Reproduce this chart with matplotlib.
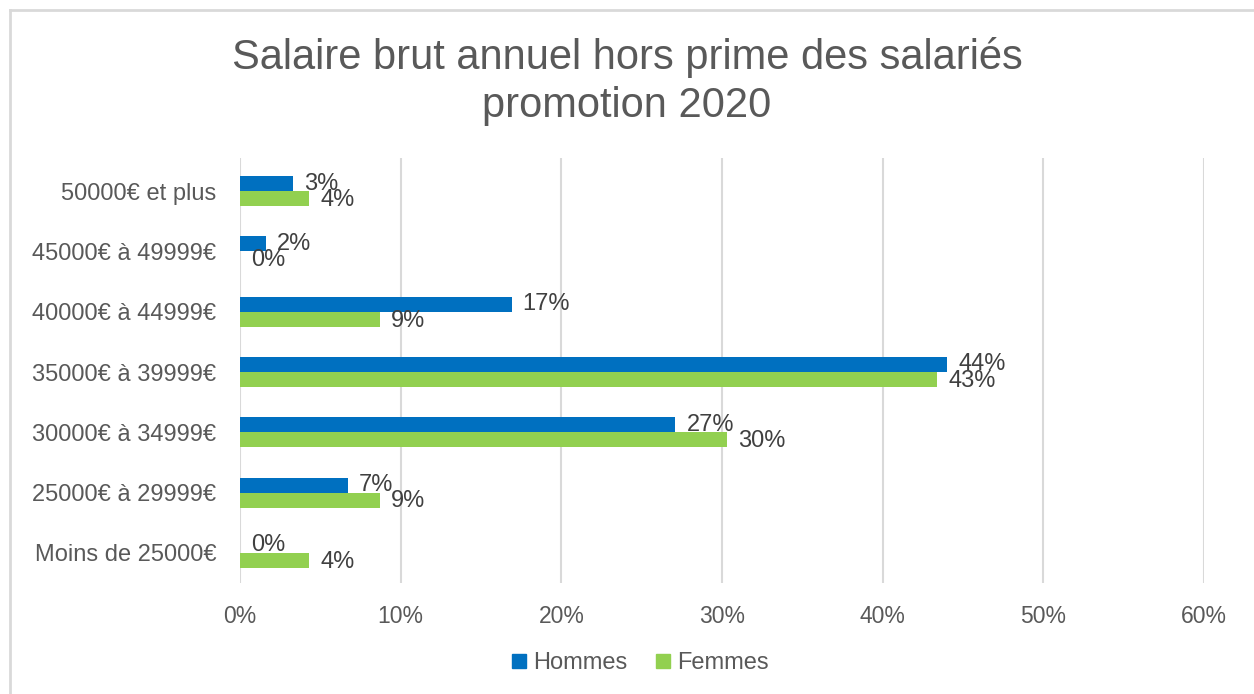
import matplotlib.pyplot as plt
import numpy as np
from matplotlib.lines import Line2D

plt.rcParams['font.family'] = ['Liberation Sans', 'DejaVu Sans']

# categories (bottom to top)
categories = ["Moins de 25000€", "25000€ à 29999€", "30000€ à 34999€", "35000€ à 39999€",
              "40000€ à 44999€", "45000€ à 49999€", "50000€ et plus"]
hommes = [0.0, 6.7, 27.1, 44.0, 16.9, 1.6, 3.3]
femmes = [4.3, 8.7, 30.3, 43.4, 8.7, 0.0, 4.3]
hommes_labels = ["0%", "7%", "27%", "44%", "17%", "2%", "3%"]
femmes_labels = ["4%", "9%", "30%", "43%", "9%", "0%", "4%"]
xticks = [0, 10, 20, 30, 40, 50, 60]

blue = "#0070C0"
green = "#92D050"
txt = "#595959"
grid = "#D9D9D9"

fig = plt.figure(figsize=(12.54, 6.94), dpi=100)
ax = fig.add_axes([240/1254, 1-583/694, (1204-240)/1254, (583-158)/694])

y = np.arange(len(categories))
h = 0.25
ax.barh(y + h/2, hommes, height=h, color=blue, zorder=3)
ax.barh(y - h/2, femmes, height=h, color=green, zorder=3)

# data labels (Excel style, they overlap a bit)
for i in range(len(categories)):
    ax.annotate(hommes_labels[i], (hommes[i], y[i] + h/2), xytext=(8, 0),
                textcoords="offset points", va="center", ha="left", fontsize=17, color="#404040")
    ax.annotate(femmes_labels[i], (femmes[i], y[i] - h/2), xytext=(8, -1),
                textcoords="offset points", va="center", ha="left", fontsize=17, color="#404040")

ax.set_xlim(0, 60)
ax.set_ylim(-0.5, 6.55)
ax.set_xticks(xticks)
ax.set_xticklabels([f"{v}%" for v in xticks])
ax.set_yticks(y)
ax.set_yticklabels(categories)
ax.tick_params(axis="x", length=0, pad=16, labelsize=16.5, labelcolor=txt)
ax.tick_params(axis="y", length=0, pad=17, labelsize=17, labelcolor=txt)
ax.grid(axis="x", color=grid, linewidth=1.5, zorder=0)
for s in ax.spines.values():
    s.set_visible(False)

fig.text(0.5, 1-57/694, "Salaire brut annuel hors prime des salariés", ha="center", va="center",
         fontsize=30, color=txt)
fig.text(0.5, 1-106/694, "promotion 2020", ha="center", va="center", fontsize=30, color=txt)

handles = [Line2D([], [], marker="s", linestyle="", color=blue, markersize=10),
           Line2D([], [], marker="s", linestyle="", color=green, markersize=10)]
fig.legend(handles, ["Hommes", "Femmes"], loc="center", bbox_to_anchor=(638/1254, 1-663/694),
           ncol=2, frameon=False, fontsize=17, labelcolor=txt, handletextpad=0.1,
           columnspacing=1.0, handlelength=1.0)

# chart border (top and left visible)
fig.add_artist(Line2D([10/1254, 10/1254], [0, 1-10/694], transform=fig.transFigure, color=grid, linewidth=2))
fig.add_artist(Line2D([10/1254, 1], [1-10/694, 1-10/694], transform=fig.transFigure, color=grid, linewidth=2))

fig.savefig("out.png", dpi=100)
